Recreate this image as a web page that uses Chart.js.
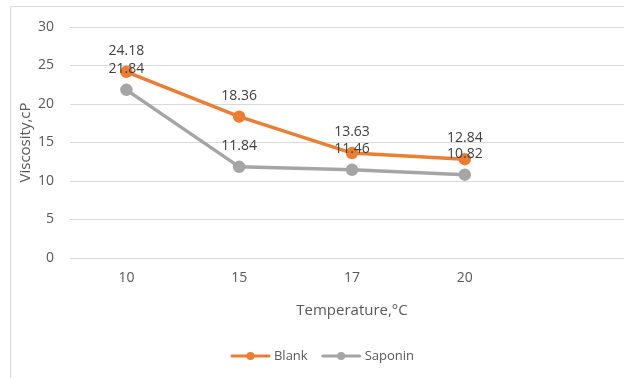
<!DOCTYPE html>
<html><head><meta charset="utf-8">
<script src="https://cdn.jsdelivr.net/npm/chart.js@4"></script>
<style>
html,body{margin:0;padding:0;background:#fff;overflow:hidden}
#wrap{position:relative;width:624px;height:378px;overflow:hidden;background:#fff}
#wrap canvas{position:absolute;left:0;top:0}
</style></head><body>
<div id="wrap"><canvas id="c" width="646" height="378" style="width:646px;height:378px"></canvas></div>
<script>
// Temperature categories (last slot intentionally left empty)
const temperatures = ['10', '15', '17', '20', ''];
const blankViscosity = [24.18, 18.36, 13.63, 12.84, null];
const saponinViscosity = [21.84, 11.84, 11.46, 10.82, null];
const seriesNames = ['Blank', 'Saponin'];
const seriesColors = ['#ED7D31', '#A5A5A5'];

const FONT = '"Open Sans", "Noto Sans", sans-serif';
const TEXT = '#595959';
const GRID = '#d9d9d9';

// Outer frame of the chart area
const framePlugin = {
  id: 'frame',
  beforeDraw(chart) {
    const ctx = chart.ctx;
    ctx.save();
    ctx.strokeStyle = GRID;
    ctx.lineWidth = 1;
    ctx.beginPath();
    ctx.moveTo(10.5, chart.height);
    ctx.lineTo(10.5, 6.5);
    ctx.lineTo(chart.width, 6.5);
    ctx.stroke();
    ctx.restore();
  }
};

// Value labels above each point
const valueLabels = {
  id: 'valueLabels',
  afterDatasetsDraw(chart) {
    const ctx = chart.ctx;
    ctx.save();
    ctx.font = '14px ' + FONT;
    ctx.fillStyle = '#404040';
    ctx.textAlign = 'center';
    ctx.textBaseline = 'middle';
    chart.data.datasets.forEach((ds, i) => {
      chart.getDatasetMeta(i).data.forEach((pt, j) => {
        const v = ds.data[j];
        if (v == null) return;
        ctx.fillText(v.toFixed(2), pt.x, pt.y - 21);
      });
    });
    ctx.restore();
  }
};

// Legend at the bottom: line with a marker, followed by the series name
const bottomLegend = {
  id: 'bottomLegend',
  afterDraw(chart) {
    const ctx = chart.ctx;
    ctx.save();
    ctx.font = '13px ' + FONT;
    ctx.textBaseline = 'middle';
    const lineW = 37, gapText = 5, gapItem = 15, y = 356;
    const widths = chart.data.datasets.map(ds => lineW + gapText + ctx.measureText(ds.label).width);
    const total = widths.reduce((a, b) => a + b, 0) + gapItem * (widths.length - 1);
    let x = 323 - total / 2;
    chart.data.datasets.forEach((ds, i) => {
      ctx.strokeStyle = ds.borderColor;
      ctx.lineWidth = 3;
      ctx.lineCap = 'round';
      ctx.beginPath();
      ctx.moveTo(x, y);
      ctx.lineTo(x + lineW, y);
      ctx.stroke();
      ctx.fillStyle = ds.borderColor;
      ctx.beginPath();
      ctx.arc(x + lineW / 2, y, 4, 0, Math.PI * 2);
      ctx.fill();
      ctx.fillStyle = TEXT;
      ctx.textAlign = 'left';
      ctx.fillText(ds.label, x + lineW + gapText, y);
      x += widths[i] + gapItem;
    });
    ctx.restore();
  }
};

new Chart(document.getElementById('c'), {
  type: 'line',
  data: {
    labels: temperatures,
    datasets: [
      {
        label: seriesNames[0], data: blankViscosity,
        borderColor: seriesColors[0], backgroundColor: seriesColors[0],
        borderWidth: 3.5, pointRadius: 4.5, pointHoverRadius: 4.5, tension: 0
      },
      {
        label: seriesNames[1], data: saponinViscosity,
        borderColor: seriesColors[1], backgroundColor: seriesColors[1],
        borderWidth: 3.5, pointRadius: 4.5, pointHoverRadius: 4.5, tension: 0
      }
    ]
  },
  options: {
    responsive: false,
    animation: false,
    layout: { padding: { left: 10, top: 27, right: 12, bottom: 58 } },
    plugins: {
      legend: { display: false },
      tooltip: { enabled: false }
    },
    scales: {
      x: {
        offset: true,
        afterFit(s) { s.height = 62; },
        grid: { display: false, drawTicks: false },
        border: { display: false },
        ticks: { color: TEXT, font: { family: FONT, size: 14 }, padding: 12 },
        title: {
          display: true, text: 'Temperature,\u00B0C', color: TEXT,
          font: { family: FONT, size: 15 }, padding: { top: 6, bottom: 0 }
        }
      },
      y: {
        min: 0, max: 30,
        afterFit(s) { s.width = 60; },
        grid: { color: GRID, lineWidth: 1, drawTicks: false },
        border: { display: false },
        ticks: { stepSize: 5, color: TEXT, font: { family: FONT, size: 14 }, padding: 16 },
        title: {
          display: true, text: 'Viscosity,cP', color: TEXT,
          font: { family: FONT, size: 15 }, padding: { top: 7, bottom: 0 }
        }
      }
    }
  },
  plugins: [framePlugin, valueLabels, bottomLegend]
});
</script>
</body></html>
